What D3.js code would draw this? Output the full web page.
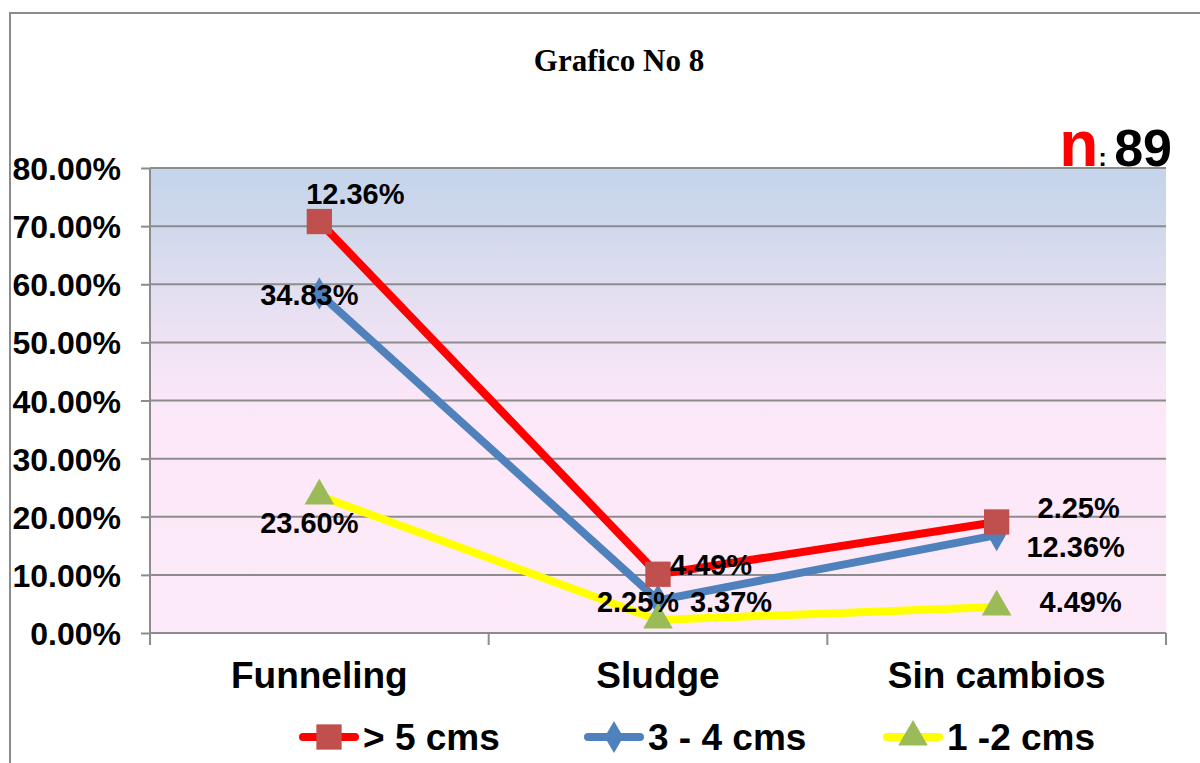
<!DOCTYPE html>
<html><head><meta charset="utf-8">
<script src="https://cdn.jsdelivr.net/npm/d3@7"></script>
<style>body{margin:0;background:#fff}svg{display:block}text{font-family:"Liberation Sans",Arial,sans-serif;font-weight:bold}</style>
</head><body>
<script>
const categories = ["Funneling", "Sludge", "Sin cambios"];
const seriesNames = ["1 -2 cms", "3 - 4 cms", "> 5 cms"];
const s12 = [0.2360, 0.0225, 0.0449];
const s34 = [0.3483, 0.0337, 0.1236];
const s5 = [0.1236, 0.0449, 0.0225];
const yTicks = [0, 0.1, 0.2, 0.3, 0.4, 0.5, 0.6, 0.7, 0.8];
const legendOrder = ["> 5 cms", "3 - 4 cms", "1 -2 cms"];

const W = 1200, H = 763;
const M = {left:150, right:1166, top:168, bottom:633};
const colors = {"> 5 cms":"#ff0000", "3 - 4 cms":"#4f81bd", "1 -2 cms":"#ffff00"};
const markerColors = {"> 5 cms":"#c0504d", "3 - 4 cms":"#4f81bd", "1 -2 cms":"#9bbb59"};
const markerTypes = {"> 5 cms":d3.symbolSquare, "3 - 4 cms":d3.symbolDiamond, "1 -2 cms":d3.symbolTriangle};
const markerSizes = {"> 5 cms":640, "3 - 4 cms":300, "1 -2 cms":380};
// label offsets [dx, dy] per series per category
const labelOffsets = {
  "> 5 cms":[[36,-18],[53,1],[82,-4]],
  "3 - 4 cms":[[-10,12],[73,12],[79,22]],
  "1 -2 cms":[[-10,37],[-20,-8],[84,5]]
};

const svg = d3.select("body").append("svg").attr("width",W).attr("height",H);
const defs = svg.append("defs");
const grad = defs.append("linearGradient").attr("id","bg").attr("x1",0).attr("y1",0).attr("x2",0).attr("y2",1);
[[0,"#c4d4ea"],[0.12,"#cfd8ec"],[0.28,"#e4dff1"],[0.45,"#f7e6f7"],[0.55,"#fce8f8"],[1,"#fdeaf8"]]
  .forEach(s=>grad.append("stop").attr("offset",s[0]).attr("stop-color",s[1]));
const blur = defs.append("filter").attr("id","blur").attr("x","-5%").attr("y","-200%").attr("width","110%").attr("height","500%");
blur.append("feGaussianBlur").attr("stdDeviation",2.5);

// outer border
svg.append("rect").attr("x",10).attr("y",13).attr("width",1250).attr("height",900)
  .attr("fill","none").attr("stroke","#8c8c8c").attr("stroke-width",2);

// title
svg.append("text").attr("x",619).attr("y",71).attr("text-anchor","middle")
  .style("font-family","'Liberation Serif','Times New Roman',serif").style("font-size","31px").text("Grafico No 8");

// n: 89
const nt = svg.append("text").attr("x",1172).attr("y",166).attr("text-anchor","end");
nt.append("tspan").attr("fill","#ff0000").style("font-size","64px").text("n");
nt.append("tspan").attr("fill","#000").style("font-size","26px").text(": ");
nt.append("tspan").attr("fill","#000").style("font-size","52px").text("89");

const x = d3.scaleBand().domain(categories).range([M.left, M.right]);
const cx = c => x(c) + x.bandwidth()/2;
const y = d3.scaleLinear().domain([0,0.8]).range([M.bottom, M.top]);

// plot background
svg.append("rect").attr("x",M.left).attr("y",M.top).attr("width",M.right-M.left).attr("height",M.bottom-M.top).attr("fill","url(#bg)");

// grid shadows + grid
const grid = svg.append("g");
grid.selectAll("line.sh").data(yTicks.slice(1)).join("line").attr("class","sh")
  .attr("x1",M.left+2).attr("x2",M.right).attr("y1",d=>y(d)+6).attr("y2",d=>y(d)+6)
  .attr("stroke","#cdb9cd").attr("stroke-width",5).attr("opacity",0.8).attr("filter","url(#blur)");
grid.selectAll("line.g").data(yTicks.slice(1)).join("line").attr("class","g")
  .attr("x1",M.left).attr("x2",M.right).attr("y1",d=>y(d)).attr("y2",d=>y(d))
  .attr("stroke","#8c8c8c").attr("stroke-width",2);

// y axis
const yAxis = svg.append("g").attr("transform",`translate(${M.left},0)`)
  .call(d3.axisLeft(y).tickValues(yTicks).tickFormat(d3.format(".2%")).tickSize(9).tickPadding(20));
yAxis.select(".domain").attr("stroke","#8c8c8c").attr("stroke-width",2).attr("d",`M-0,${M.top}V${M.bottom}`);
yAxis.selectAll(".tick line").attr("stroke","#8c8c8c").attr("stroke-width",2);
yAxis.selectAll(".tick text").style("font-size","32px").attr("fill","#000").attr("dy","0.36em")
  .style("font-family","'Liberation Sans',Arial,sans-serif").style("font-weight","bold");

// x axis
const xAxis = svg.append("g").attr("transform",`translate(0,${M.bottom})`)
  .call(d3.axisBottom(x).tickSize(0).tickPadding(29));
xAxis.select(".domain").attr("stroke","#8c8c8c").attr("stroke-width",2).attr("d",`M${M.left},0H${M.right}`);
xAxis.selectAll(".tick text").style("font-size","37px").attr("fill","#000").attr("dy","0.71em")
  .style("font-family","'Liberation Sans',Arial,sans-serif").style("font-weight","bold");
const bounds = categories.map(c=>x(c)).concat([x.range()[1]]);
xAxis.selectAll("line.bt").data(bounds).join("line").attr("class","bt")
  .attr("x1",d=>d).attr("x2",d=>d).attr("y1",0).attr("y2",12).attr("stroke","#8c8c8c").attr("stroke-width",2);

// stacked data
const rows = categories.map((c,i)=>({cat:c, "1 -2 cms":s12[i], "3 - 4 cms":s34[i], "> 5 cms":s5[i]}));
const stack = d3.stack().keys(seriesNames)(rows);
const byKey = {}; stack.forEach(s=>byKey[s.key]=s);

const line = d3.line().x(d=>cx(d.data.cat)).y(d=>y(d[1]));
const drawOrder = ["1 -2 cms","3 - 4 cms","> 5 cms"];
const gLines = svg.append("g");
drawOrder.forEach(k=>{
  gLines.append("path").datum(byKey[k]).attr("d",line).attr("fill","none")
    .attr("stroke",colors[k]).attr("stroke-width",8).attr("stroke-linejoin","round");
});
const gMarks = svg.append("g");
["3 - 4 cms","1 -2 cms","> 5 cms"].forEach(k=>{
  gMarks.selectAll(null).data(byKey[k]).join("path")
    .attr("transform",d=>`translate(${cx(d.data.cat)},${y(d[1])})`)
    .attr("d",d3.symbol().type(markerTypes[k]).size(markerSizes[k]))
    .attr("fill",markerColors[k]);
});
// labels
const gLab = svg.append("g");
drawOrder.forEach(k=>{
  gLab.selectAll(null).data(byKey[k]).join("text")
    .attr("x",(d,i)=>cx(d.data.cat)+labelOffsets[k][i][0])
    .attr("y",(d,i)=>y(d[1])+labelOffsets[k][i][1])
    .attr("text-anchor","middle").style("font-size","29px").attr("fill","#000")
    .text(d=>d3.format(".2%")(d.data[k]));
});

// legend
const legTextX = [363, 648, 947];
const leg = svg.append("g");
legendOrder.forEach((k,i)=>{
  const g = leg.append("g").attr("transform",`translate(${legTextX[i]},737)`);
  g.append("line").attr("x1",-60).attr("x2",-8).attr("y1",0).attr("y2",0)
    .attr("stroke",colors[k]).attr("stroke-width",8).attr("stroke-linecap","round");
  g.append("path").attr("transform","translate(-34,0)")
    .attr("d",d3.symbol().type(markerTypes[k]).size(markerSizes[k])).attr("fill",markerColors[k]);
  g.append("text").attr("x",0).attr("y",0).attr("dy","0.36em").style("font-size","37px").attr("fill","#000").text(k);
});
</script>
</body></html>
